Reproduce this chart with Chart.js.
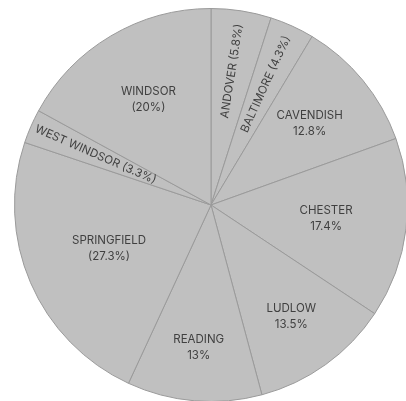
<!DOCTYPE html>
<html>
<head>
<meta charset="utf-8">
<script src="https://cdn.jsdelivr.net/npm/chart.js@4"></script>
<style>
  html, body { margin: 0; padding: 0; background: #fff; overflow: hidden; }
  #wrap { width: 406px; height: 401px; overflow: hidden; }
</style>
</head>
<body>
<div id="wrap"><canvas id="piecanvas" width="422" height="410"></canvas></div>
<script>
// towns, clockwise from 12 o'clock
let towns = ["ANDOVER", "BALTIMORE", "CAVENDISH", "CHESTER", "LUDLOW", "READING", "SPRINGFIELD", "WEST WINDSOR", "WINDSOR"];
let shares = [5.8, 4.3, 12.8, 17.4, 13.5, 13, 27.3, 3.3, 20];
// how the percent is shown under each name
let withParens = [true, true, false, false, false, false, true, true, true];
let alongRadius = [true, true, false, false, false, false, false, true, false];

// label distance from centre, fraction of radius
let labelDist = [0.69, 0.675, 0.65, 0.59, 0.70, 0.73, 0.565, 0.64, 0.625];

const sliceLabels = {
    id: 'sliceLabels',
    afterDatasetsDraw(chart) {
        let ctx = chart.ctx;
        let arcs = chart.getDatasetMeta(0).data;
        ctx.save();
        ctx.fillStyle = '#404040';
        ctx.font = '11.5px Inter, Roboto, sans-serif';
        ctx.textAlign = 'center';
        ctx.textBaseline = 'middle';
        arcs.forEach(function(arc, i) {
            let p = arc.getProps(['x', 'y', 'startAngle', 'endAngle', 'outerRadius'], true);
            let mid = (p.startAngle + p.endAngle) / 2;
            let r = p.outerRadius * labelDist[i];
            let lx = p.x + Math.cos(mid) * r;
            let ly = p.y + Math.sin(mid) * r;
            let pct = withParens[i] ? '(' + shares[i] + '%)' : shares[i] + '%';
            if (alongRadius[i]) {
                let rot = Math.cos(mid) < 0 ? mid + Math.PI : mid;
                ctx.save();
                ctx.translate(lx, ly);
                ctx.rotate(rot);
                ctx.fillText(towns[i] + ' ' + pct, 0, 0);
                ctx.restore();
            } else {
                ctx.fillText(towns[i], lx, ly - 8);
                ctx.fillText(pct, lx, ly + 8);
            }
        });
        ctx.restore();
    }
};

let pieChart = new Chart(document.getElementById('piecanvas').getContext('2d'), {
    type: 'pie',
    data: {
        labels: towns,
        datasets: [{
            data: shares,
            backgroundColor: '#c0c0c0',
            borderColor: '#9a9a9a',
            borderWidth: 1
        }]
    },
    options: {
        responsive: false,
        animation: false,
        devicePixelRatio: 1,
        layout: { padding: 8 },
        plugins: {
            legend: { display: false },
            tooltip: { enabled: false }
        }
    },
    plugins: [sliceLabels]
});
</script>
</body>
</html>
